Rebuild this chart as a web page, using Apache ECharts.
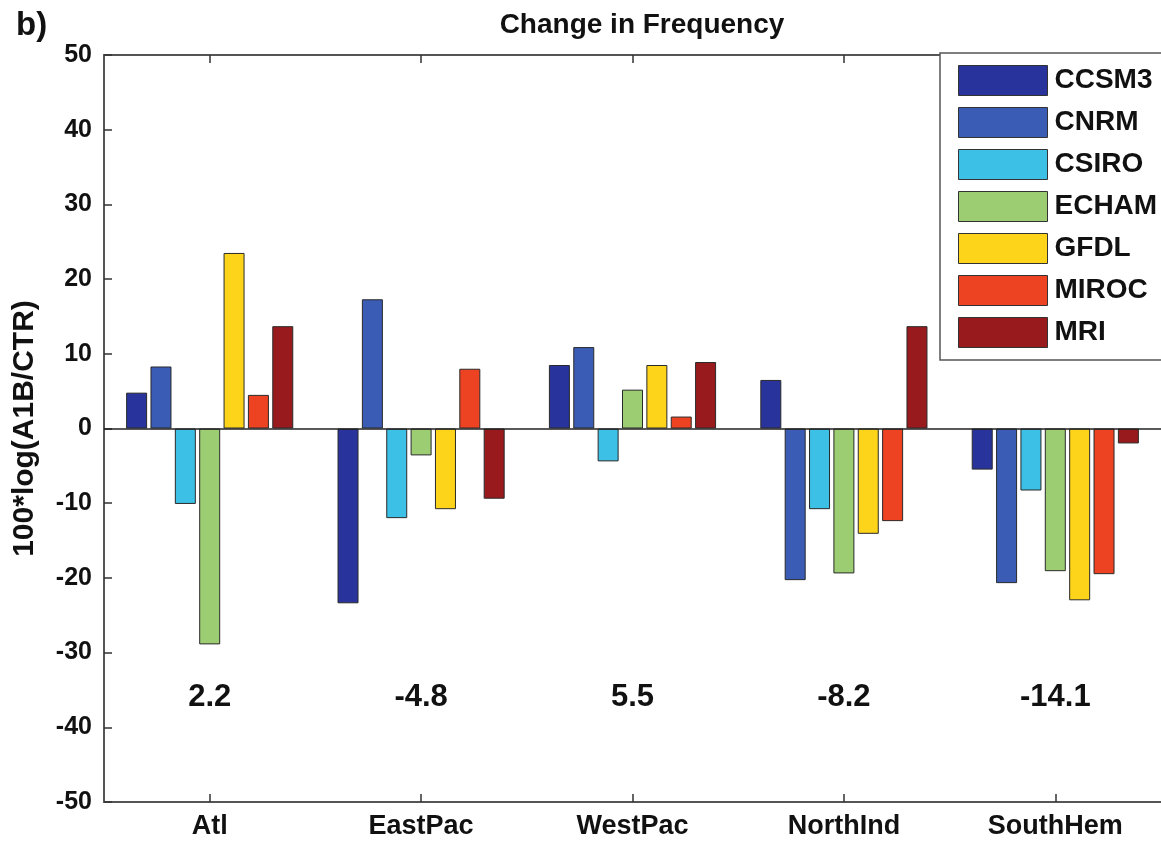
<!DOCTYPE html>
<html>
<head>
<meta charset="utf-8">
<script src="https://cdn.jsdelivr.net/npm/echarts@6/dist/echarts.min.js"></script>
<style>
html,body{margin:0;padding:0;background:#fff;}
#chart{width:1161px;height:841px;}
</style>
</head>
<body>
<div id="chart"></div>
<script>
// ---- data ----
const categories = ['Atl', 'EastPac', 'WestPac', 'NorthInd', 'SouthHem'];
const models = ['CCSM3', 'CNRM', 'CSIRO', 'ECHAM', 'GFDL', 'MIROC', 'MRI'];
const CCSM3 = [4.8, -23.4, 8.5, 6.5, -5.5];
const CNRM  = [8.3, 17.3, 10.9, -20.3, -20.7];
const CSIRO = [-10.1, -12.0, -4.4, -10.8, -8.3];
const ECHAM = [-28.9, -3.6, 5.2, -19.4, -19.1];
const GFDL  = [23.5, -10.8, 8.5, -14.1, -23.0];
const MIROC = [4.5, 8.0, 1.6, -12.4, -19.5];
const MRI   = [13.7, -9.4, 8.9, 13.7, -2.0];
const meanLabels = ['2.2', '-4.8', '5.5', '-8.2', '-14.1'];
const meanLabelY = -36;
const yTicks = { min: -50, max: 50, interval: 10 };

const seriesValues = [CCSM3, CNRM, CSIRO, ECHAM, GFDL, MIROC, MRI];
const colors = ['#28349b', '#3b5cb5', '#3cc0e5', '#9ccd72', '#fdd419', '#ee4322', '#991a1c'];
const FONT = "'Liberation Sans', Arial, Helvetica, sans-serif";

const chart = echarts.init(document.getElementById('chart'), null, { renderer: 'canvas' });

const barSeries = models.map((name, i) => ({
  name: name,
  type: 'bar',
  data: seriesValues[i],
  barWidth: 21,
  barGap: '16%',
  itemStyle: { color: colors[i], borderColor: '#2a2a2a', borderWidth: 1 },
  z: 3,
  markLine: i === 0 ? {
    silent: true, symbol: 'none', label: { show: false },
    lineStyle: { color: '#222', width: 1.5, type: 'solid' },
    data: [{ yAxis: 0 }]
  } : undefined
}));

const option = {
  backgroundColor: '#fff',
  animation: false,
  textStyle: { fontFamily: FONT },
  title: [
    { text: 'b)', left: 11, top: 4, textStyle: { fontSize: 33, fontWeight: 'bold', color: '#111', fontFamily: FONT } },
    { text: 'Change in Frequency', left: 637, top: 6, textAlign: 'center',
      textStyle: { fontSize: 28, fontWeight: 'bold', color: '#111', fontFamily: FONT } }
  ],
  grid: { left: 104, right: -9, top: 55, bottom: 39, containLabel: false },
  legend: {
    data: models,
    orient: 'vertical',
    left: 940, top: 53,
    itemWidth: 89, itemHeight: 30, itemGap: 11,
    padding: [12, 20, 12, 18],
    borderColor: '#555', borderWidth: 1.5, backgroundColor: '#fff',
    icon: 'rect',
    itemStyle: { borderColor: '#333', borderWidth: 1 },
    textStyle: { fontSize: 28, fontWeight: 'bold', color: '#111', fontFamily: FONT, padding: [0, 0, 0, 2] },
    z: 10
  },
  xAxis: [
    {
      type: 'category', data: categories, position: 'bottom',
      axisLine: { show: true, onZero: false, lineStyle: { color: '#555', width: 2 } },
      axisTick: { show: true, inside: true, alignWithLabel: true, length: 8, lineStyle: { color: '#333', width: 1.5 } },
      axisLabel: { fontSize: 27, fontWeight: 'bold', color: '#111', margin: 11, fontFamily: FONT },
      splitLine: { show: false }
    },
    {
      type: 'category', data: categories, position: 'top',
      axisLine: { show: true, onZero: false, lineStyle: { color: '#555', width: 2 } },
      axisTick: { show: true, inside: true, alignWithLabel: true, length: 8, lineStyle: { color: '#333', width: 1.5 } },
      axisLabel: { show: false },
      splitLine: { show: false }
    }
  ],
  yAxis: {
    type: 'value', min: yTicks.min, max: yTicks.max, interval: yTicks.interval,
    name: '100*log(A1B/CTR)', nameLocation: 'middle', nameGap: 64, nameRotate: 90,
    nameTextStyle: { fontSize: 30, fontWeight: 'bold', color: '#111', fontFamily: FONT },
    axisLine: { show: true, onZero: false, lineStyle: { color: '#555', width: 2 } },
    axisTick: { show: true, inside: true, length: 8, lineStyle: { color: '#333', width: 1.5 } },
    axisLabel: { fontSize: 25, fontWeight: 'bold', color: '#111', margin: 12, fontFamily: FONT },
    splitLine: { show: false }
  },
  series: barSeries.concat([{
    name: 'mean',
    type: 'scatter',
    data: meanLabels.map(() => meanLabelY),
    symbolSize: 0,
    silent: true,
    itemStyle: { opacity: 1 },
    label: {
      show: true, position: 'inside',
      formatter: p => meanLabels[p.dataIndex],
      fontSize: 31, fontWeight: 'bold', color: '#111', fontFamily: FONT
    }
  }])
};
chart.setOption(option);
</script>
</body>
</html>
